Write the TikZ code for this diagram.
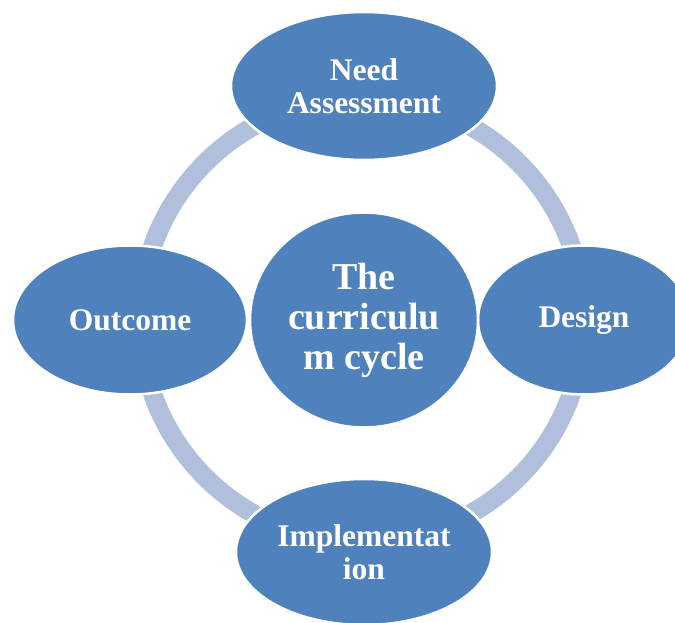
\documentclass[tikz,border=0pt]{standalone}
\usepackage{fontspec}
\setmainfont{Liberation Serif}
\usepackage{tikz}
\usetikzlibrary{shapes.geometric}
\definecolor{cyclefill}{RGB}{79,129,189}
\definecolor{cyclering}{RGB}{176,192,220}
\tikzstyle{phase}=[ellipse, fill=cyclefill, draw=white, line width=2.5pt,
  inner sep=0pt, text=white, align=center,
  font=\fontsize{31.5}{33}\selectfont\bfseries]
\tikzstyle{hub}=[phase, minimum width=228pt, minimum height=215pt,
  font=\fontsize{38}{40}\selectfont\bfseries]
\tikzstyle{ring}=[draw=cyclering, line width=19pt]

\begin{document}
\begin{tikzpicture}[x=1pt, y=-1pt]
\useasboundingbox (0,0) rectangle (675,623);

% the cycle behind the phases
\coordinate (mid) at (362,320);
\draw[ring] (mid) circle (222);

\node[phase, minimum width=266pt, minimum height=148pt] (need) at (364,86)
  {Need\\Assessment};
\node[phase, minimum width=212pt, minimum height=149pt] (design) at (584,320)
  {Design};
\node[phase, minimum width=256pt, minimum height=146pt] (impl) at (364,552)
  {Implementat\\ion};
\node[phase, minimum width=234pt, minimum height=149pt] (outcome) at (130,320)
  {Outcome};

\node[hub] (cycle) at (364,320) {The\\curriculu\\m cycle};

\end{tikzpicture}
\end{document}
